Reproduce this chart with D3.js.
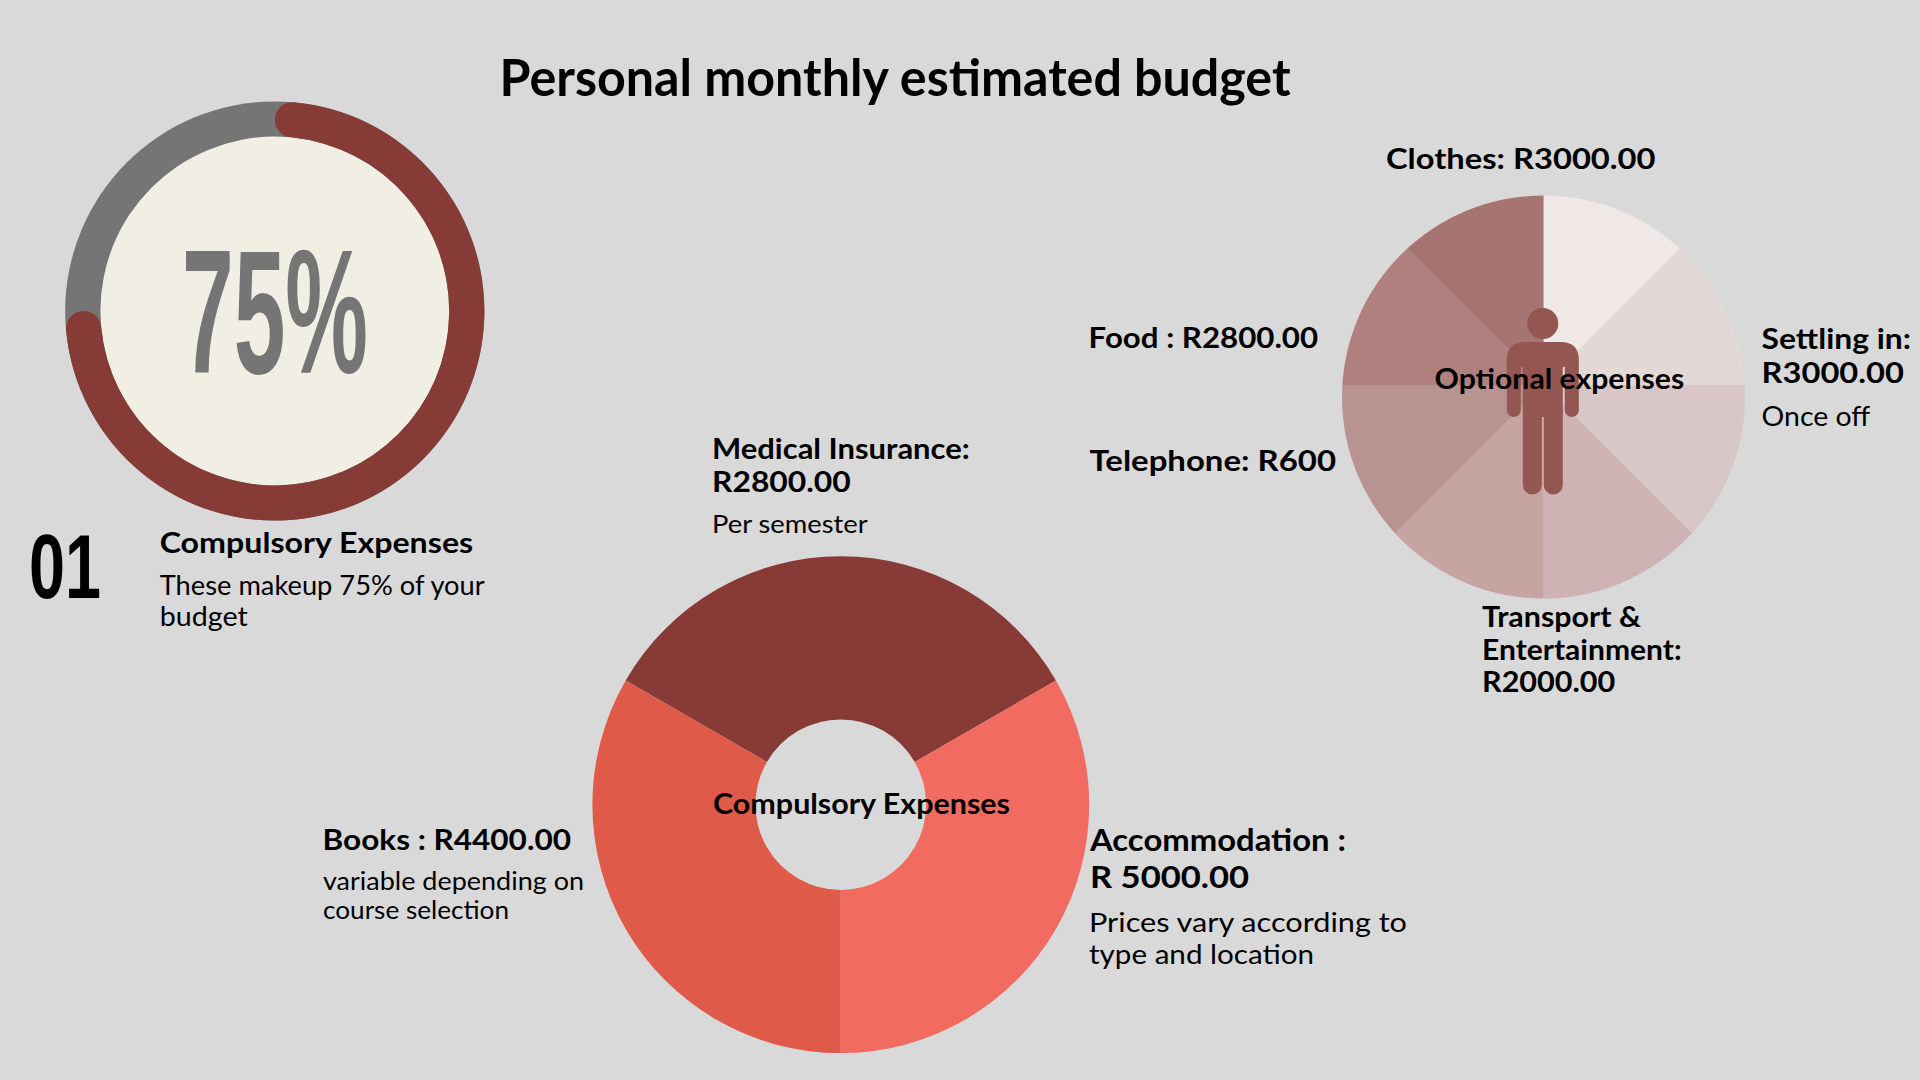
<!DOCTYPE html>
<html>
<head>
<meta charset="utf-8">
<title>Personal monthly estimated budget</title>
<script src="https://cdn.jsdelivr.net/npm/d3@7"></script>
<style>
    html, body { margin: 0; padding: 0; background: #d9d9d9; }
    svg { display: block; }
    text { font-family: Lato, "Noto Sans", sans-serif; fill: #000; }
    .narrow { font-family: "Liberation Sans Narrow", "Liberation Sans", sans-serif; }
</style>
</head>
<body>
<div id="chart"></div>
<script>
// gauge
const gaugeShare = 75;

// compulsory expenses, the picture shows three equal slices
const compulsoryShares = [1, 1, 1];
const compulsoryColors = ["#873a36", "#f26b60", "#e05a4a"];

// optional expenses, eight equal slices clockwise from the top
const optionalShares = [1, 1, 1, 1, 1, 1, 1, 1];
const optionalColors = ["#efe8e6", "#e2d9d7", "#d9c6c7", "#cfb2b3", "#c5a4a2", "#b99391", "#af807d", "#a77571"];

const width = 1920, height = 1080;

const svg = d3.select("#chart")
    .append("svg")
    .attr("width", width)
    .attr("height", height);

svg.append("rect")
    .attr("width", width)
    .attr("height", height)
    .attr("fill", "#d9d9d9");

// text is fitted to the width it has in the reference
function label(txt, x, y, size, weight, w, cls, color) {
    const t = svg.append("text")
        .attr("x", x)
        .attr("y", y)
        .style("font-size", size + "px")
        .style("font-weight", weight)
        .attr("textLength", w)
        .attr("lengthAdjust", "spacingAndGlyphs")
        .text(txt);
    if (cls) t.attr("class", cls);
    if (color) t.style("fill", color);
    return t;
}

// ---- gauge ----
const gauge = svg.append("g")
    .attr("transform", "translate(274.8, 311)");

const gaugeScale = d3.scaleLinear()
    .domain([0, 100])
    .range([0, 2 * Math.PI]);

gauge.append("circle")
    .attr("r", 209.6)
    .attr("fill", "#757575");
gauge.append("circle")
    .attr("r", 174.4)
    .attr("fill", "#f1efe4");
gauge.append("path")
    .attr("d", d3.arc()
        .innerRadius(174.4)
        .outerRadius(209.6)
        .cornerRadius(17.6)
        .startAngle(0)
        .endAngle(gaugeScale(gaugeShare)))
    .attr("fill", "#873b36");

// ---- compulsory donut ----
const donut = svg.append("g")
    .attr("transform", "translate(840.8, 804.7)");

const donutPie = d3.pie()
    .sort(null)
    .startAngle(-Math.PI / 3)
    .endAngle(2 * Math.PI - Math.PI / 3);

const donutArc = d3.arc()
    .innerRadius(85.3)
    .outerRadius(248.4);

donut.selectAll("path")
    .data(donutPie(compulsoryShares))
    .enter()
    .append("path")
    .attr("d", donutArc)
    .attr("fill", (d, i) => compulsoryColors[i]);

// ---- optional pie ----
// the slices meet 12px above the middle of the disc, so they are clipped by the disc
const optional = svg.append("g")
    .attr("transform", "translate(1543.5, 385)");

svg.append("clipPath")
    .attr("id", "disc")
    .append("circle")
    .attr("cx", 0)
    .attr("cy", 12)
    .attr("r", 201.5);

const optionalPie = d3.pie().sort(null);
const optionalArc = d3.arc()
    .innerRadius(0)
    .outerRadius(240);

optional.append("g")
    .attr("clip-path", "url(#disc)")
    .selectAll("path")
    .data(optionalPie(optionalShares))
    .enter()
    .append("path")
    .attr("d", optionalArc)
    .attr("fill", (d, i) => optionalColors[i]);

// person in the middle of the pie
const person = svg.append("g")
    .attr("transform", "translate(1542.8, 0)")
    .attr("fill", "#945651");
person.append("circle").attr("cy", 323.5).attr("r", 15.5);
person.append("path")
    .attr("d", "M-36,410 V360 Q-36,342 -18,342 H18 Q36,342 36,360 V410 A7,7 0 0 1 22,410 V367 H20 V485 A9.5,9.5 0 0 1 1,485 V417 H-1 V485 A9.5,9.5 0 0 1 -20,485 V367 H-22 V410 A7,7 0 0 1 -36,410 Z");

// ---- texts ----
label("Personal monthly estimated budget", 499.6, 95.5, 51, 700, 791);

label("75%", 182, 373, 176, 700, 186, "narrow", "#757575");
label("01", 29, 597.7, 91, 700, 72, "narrow");

label("Compulsory Expenses", 159.7, 552.5, 28, 700, 313.5);
label("These makeup 75% of your", 159.7, 595, 26, 400, 325);
label("budget", 159.7, 625.5, 26, 400, 88);

label("Medical Insurance:", 712, 458.5, 28, 700, 257.7);
label("R2800.00", 712, 491.5, 28, 700, 138.7);
label("Per semester", 712, 532.7, 25, 400, 155.7);

label("Books : R4400.00", 322.5, 850, 28, 700, 248.5);
label("variable depending on", 323, 890, 25, 400, 261);
label("course selection", 323, 919, 25, 400, 186);

label("Accommodation :", 1090, 851, 30, 700, 256);
label("R 5000.00", 1090, 888, 30, 700, 159);
label("Prices vary according to", 1089, 932, 26.5, 400, 318);
label("type and location", 1089, 963.7, 26.5, 400, 225);

label("Compulsory Expenses", 713, 813.8, 28, 700, 297);

label("Clothes: R3000.00", 1386, 169, 28, 700, 269.5);
label("Food : R2800.00", 1088.6, 348.3, 28, 700, 229.5);
label("Telephone: R600", 1089.5, 471, 28, 700, 246.5);
label("Settling in:", 1761.6, 349.2, 28, 700, 149.4);
label("R3000.00", 1761.6, 383, 28, 700, 142.2);
label("Once off", 1761.6, 426, 26, 400, 108.6);
label("Optional expenses", 1434.5, 389, 28, 700, 249.7);
label("Transport &", 1482, 626.5, 28, 700, 159);
label("Entertainment:", 1482, 659.5, 28, 700, 199.7);
label("R2000.00", 1482, 692, 28, 700, 133.2);
</script>
</body>
</html>
